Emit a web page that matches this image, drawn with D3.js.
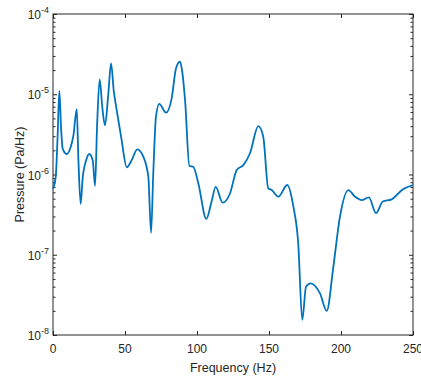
<!DOCTYPE html>
<html>
<head>
<meta charset="utf-8">
<script src="https://cdn.jsdelivr.net/npm/d3@7"></script>
<style>
  body { margin: 0; background: #fff; }
  text { font-family: "Liberation Sans", Arial, sans-serif; fill: #262626; }
</style>
</head>
<body>
<script>
// spectrum: frequency (Hz) and pressure (Pa/Hz)
var freq = [0, 1.9, 3.2, 4.4, 5.6, 6.7, 9.5, 12.3, 14.1, 16.5, 17.6, 19.2, 20.6, 23.0, 25.2, 27.6, 29.2,
  30.6, 32.4, 34.2, 36.1, 38.4, 40.3, 42.2, 44.2, 47.5, 51.2, 54.7, 58.5, 62.7, 66.2, 68.1,
  69.6, 71.5, 73.8, 78.5, 82.4, 85.4, 88.2, 89.6, 91.7, 94.7, 97.4, 100.9, 106.5, 110.0, 113.0, 117.8,
  122.9, 127.6, 132.2, 136.8, 142.6, 146.0, 149.5, 151.9, 156.5, 162.7, 166.9, 170.3, 173.1,
  175.7, 179.0, 185.4, 190.1, 194.7, 199.3, 205.1, 209.7, 214.4, 219.4, 224.3, 229.0, 235.2, 242.8, 250];
var pressure = [6.6e-7, 9.4e-7, 3.0e-6, 1.1e-5, 3.8e-6, 2.1e-6, 1.8e-6, 2.2e-6, 3.0e-6, 6.5e-6, 1.6e-6, 4.3e-7, 9.0e-7, 1.5e-6, 1.8e-6, 1.5e-6, 7.2e-7,
  4.0e-6, 1.53e-5, 7.0e-6, 4.1e-6, 1.0e-5, 2.43e-5, 1.1e-5, 6.4e-6, 2.8e-6, 1.23e-6, 1.52e-6, 2.06e-6, 1.67e-6, 9.4e-7, 1.88e-7,
  1.0e-6, 5.25e-6, 7.6e-6, 5.9e-6, 8.9e-6, 2.1e-5, 2.55e-5, 2.0e-5, 8.5e-6, 1.28e-6, 1.25e-6, 7.8e-7, 2.8e-7, 4.5e-7, 7.0e-7, 4.45e-7,
  5.8e-7, 1.14e-6, 1.31e-6, 1.84e-6, 4.0e-6, 2.96e-6, 6.7e-7, 6.4e-7, 5.3e-7, 7.4e-7, 4.0e-7, 1.39e-7, 1.54e-8,
  4.0e-8, 4.4e-8, 3.3e-8, 2.0e-8, 7.1e-8, 3.0e-7, 6.4e-7, 5.3e-7, 4.8e-7, 5.2e-7, 3.3e-7, 4.6e-7, 4.9e-7, 6.5e-7, 7.4e-7];
var xTicks = [0, 50, 100, 150, 200, 250];
var yDecades = [-8, -7, -6, -5, -4];

var W = 421, H = 379;
var m = {left: 53, right: 8, top: 14, bottom: 44};
var iw = W - m.left - m.right, ih = H - m.top - m.bottom;

var svg = d3.select('body').append('svg')
    .attr('width', W)
    .attr('height', H);

var x = d3.scaleLinear().domain([0, 250]).range([0, iw]);
var y = d3.scaleLog().domain([1e-8, 1e-4]).range([ih, 0]);

var g = svg.append('g').attr('transform', 'translate(' + m.left + ',' + m.top + ')');

// minor ticks for the log axis
var minor = [];
yDecades.slice(0, -1).forEach(function(e) {
  for (var k = 2; k <= 9; k++) minor.push(k * Math.pow(10, e));
});
var major = yDecades.map(function(e) { return Math.pow(10, e); });

function styleAxis(sel) {
  sel.select('.domain').remove();
  sel.selectAll('line').attr('stroke', '#262626').attr('stroke-width', 1);
  sel.selectAll('text').remove();
}

// x ticks, bottom and top, pointing inward
g.append('g').attr('transform', 'translate(0,' + ih + ')')
  .call(d3.axisBottom(x).tickValues(xTicks).tickSize(-4)).call(styleAxis);
g.append('g')
  .call(d3.axisTop(x).tickValues(xTicks).tickSize(-4)).call(styleAxis);

// y ticks, left and right
g.append('g').call(d3.axisLeft(y).tickValues(major).tickSize(-4)).call(styleAxis);
g.append('g').call(d3.axisLeft(y).tickValues(minor).tickSize(-2.5)).call(styleAxis);
g.append('g').attr('transform', 'translate(' + iw + ',0)')
  .call(d3.axisRight(y).tickValues(major).tickSize(-4)).call(styleAxis);
g.append('g').attr('transform', 'translate(' + iw + ',0)')
  .call(d3.axisRight(y).tickValues(minor).tickSize(-2.5)).call(styleAxis);

// box
g.append('rect').attr('width', iw).attr('height', ih)
  .attr('fill', 'none').attr('stroke', '#262626').attr('stroke-width', 1);

// tick labels
g.selectAll('.xl').data(xTicks).enter().append('text')
  .attr('x', function(d) { return x(d); })
  .attr('y', ih + 18)
  .attr('text-anchor', 'middle')
  .style('font-size', '12px')
  .text(function(d) { return d; });

var yl = g.selectAll('.yl').data(yDecades).enter().append('text')
  .attr('x', -4)
  .attr('y', function(d) { return y(Math.pow(10, d)) + 5; })
  .attr('text-anchor', 'end')
  .style('font-size', '12px');
yl.append('tspan').text('10');
yl.append('tspan').attr('dy', -6).style('font-size', '9px').text(function(d) { return '-' + Math.abs(d); });

// axis titles
g.append('text')
  .attr('x', iw / 2).attr('y', ih + 37)
  .attr('text-anchor', 'middle')
  .style('font-size', '12.5px')
  .text('Frequency (Hz)');
g.append('text')
  .attr('transform', 'translate(-29,' + (ih / 2) + ') rotate(-90)')
  .attr('text-anchor', 'middle')
  .style('font-size', '12.5px')
  .text('Pressure (Pa/Hz)');

// spectrum line
var pts = freq.map(function(f, i) { return [f, pressure[i]]; });
g.append('path').datum(pts)
  .attr('fill', 'none')
  .attr('stroke', '#0072BD')
  .attr('stroke-width', 1.8)
  .attr('stroke-linejoin', 'round')
  .attr('d', d3.line()
    .x(function(d) { return x(d[0]); })
    .y(function(d) { return y(d[1]); })
    .curve(d3.curveMonotoneX));
</script>
</body>
</html>
